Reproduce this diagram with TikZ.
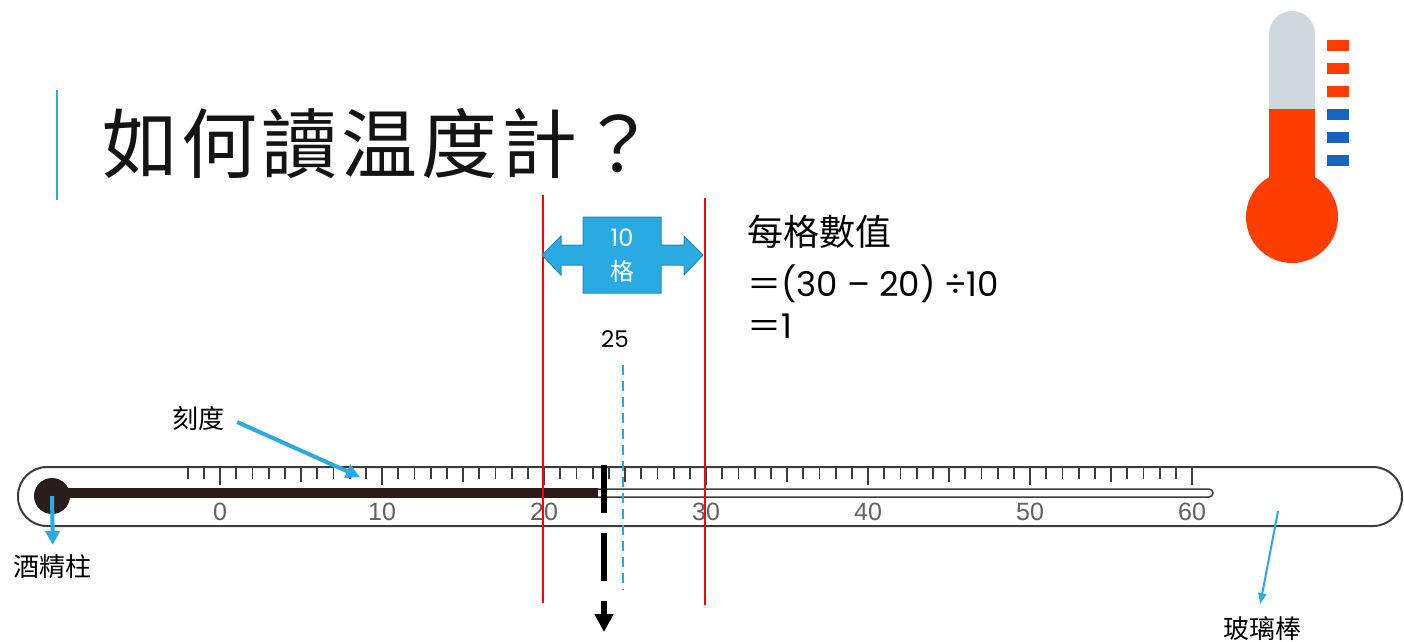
\documentclass[tikz,border=0pt]{standalone}
\usepackage{fontspec}
\setmainfont{Poppins}
\newfontfamily\cjk{Noto Sans CJK TC}
\newfontfamily\titlefont[LetterSpace=5]{Noto Sans CJK TC}
\newfontfamily\tickfont{Liberation Sans}
\usetikzlibrary{arrows.meta}

\definecolor{skyblue}{HTML}{29ABE2}
\definecolor{flame}{HTML}{FF3D00}
\definecolor{steelgray}{HTML}{CFD8DC}
\definecolor{deepblue}{HTML}{1565C0}
\definecolor{spirit}{HTML}{2A1C1C}
\definecolor{glass}{HTML}{3C3C3C}

\tikzset{
  callout/.style={skyblue, line width=4, -{Triangle[length=14,width=14]}},
  partname/.style={anchor=base, inner sep=0, font=\cjk\fontsize{26}{26}\selectfont},
  scalenum/.style={anchor=base, inner sep=0, text=black!62, font=\tickfont\fontsize{25}{25}\selectfont},
  redline/.style={red, line width=2},
  tick/.style={glass, line width=1.8}
}

\begin{document}
\begin{tikzpicture}[x=1pt,y=-1pt]
		\useasboundingbox (0,0) rectangle (1404,641);
		% title
		\draw[skyblue, line width=2] (57,90) -- (57,200);
		\node[anchor=base west, inner sep=0, text=black!92] (title) at (102,172) {\titlefont\fontsize{76}{80}\selectfont 如何讀温度計？};
		% little thermometer icon
		\fill[steelgray] (1292,34) circle (23);
		\fill[steelgray] (1269,34) rectangle (1315,109);
		\fill[flame] (1269,109) rectangle (1315,190);
		\fill[flame] (1292,217) circle (46);
		\foreach \k in {0,1,2} \fill[flame] (1327,{40+23*\k}) rectangle ++(22,11);
		\foreach \k in {3,4,5} \fill[deepblue] (1327,{40+23*\k}) rectangle ++(22,11);
		% glass tube and capillary
		\draw[glass, line width=2, rounded corners=29] (18,467) rectangle (1402,526);
		\draw[glass, line width=1.5, rounded corners=4] (60,489) -- (1213,489) -- (1213,497) -- (60,497);
		\fill[spirit] (52,488) rectangle (598,497.5);
		\node[circle, fill=spirit, minimum size=36, inner sep=0] (bulb) at (52,496) {};
		% scale
		\foreach \t in {-2,...,60} \draw[tick] ({220+16.2*\t},468) -- ++(0,11);
		\foreach \t in {0,5,...,60} \draw[tick] ({220+16.2*\t},468) -- ++(0,14);
		\foreach \t in {0,10,...,60} {
			\draw[tick] ({220+16.2*\t},468) -- ++(0,17);
			\node[scalenum] (n\t) at ({220+16.2*\t},520) {\t};
		}
		% the 20 .. 30 interval
		\draw[redline] (543,195) -- (543,603);
		\draw[redline] (705,198) -- (705,605);
		\filldraw[fill=skyblue, draw=skyblue!80!black, line width=1]
			(583,217) -- (661,217) -- (661,245) -- (684,245) -- (684,236) -- (703,255)
			-- (684,275) -- (684,265) -- (661,265) -- (661,293) -- (583,293) -- (583,265)
			-- (561,265) -- (561,275) -- (542,255) -- (561,236) -- (561,245) -- (583,245) -- cycle;
		\node[align=center, text=white, inner sep=0, font=\fontsize{24}{34}\selectfont] (span) at (622,256) {10\\{\cjk 格}};
		\node[anchor=base west, inner sep=0, font=\cjk\fontsize{36}{36}\selectfont] (rule) at (747,245) {每格數值};
		\node[anchor=base west, inner sep=0, font=\fontsize{34}{34}\selectfont] (calc) at (747,296) {{\cjk ＝}(30 – 20) ÷10};
		\node[anchor=base west, inner sep=0, font=\fontsize{34}{34}\selectfont] (result) at (747,338) {{\cjk ＝}1};
		% where 25 would be
		\node[anchor=base, inner sep=0, font=\fontsize{23}{23}\selectfont] (mid) at (615,347) {25};
		\draw[skyblue, line width=2, dash pattern=on 10 off 6] (623,365) -- (623,590);
		% reading
		\coordinate (reading) at (604,465);
		\coordinate (readout) at (604,632);
		\draw[line width=6, dash pattern=on 48 off 20, -{Triangle[length=18,width=18]}] (reading) -- (readout);
		% parts
		\node[partname] (kedu) at (198,428) {刻度};
		\coordinate (scalemark) at (360,477);
		\draw[callout] ([xshift=13,yshift=-4]kedu.east) -- (scalemark);
		\node[partname] (jiujing) at (52,576) {酒精柱};
		\draw[callout, shorten >=9] (bulb.center) -- ([xshift=1]jiujing.north);
		\node[partname] (boli) at (1262,638) {玻璃棒};
		\coordinate (tube) at (1278,511);
		\draw[callout, line width=2, -{Triangle[length=11,width=8]}, shorten >=12] (tube) -- ([xshift=-4]boli.north);
\end{tikzpicture}
\end{document}
